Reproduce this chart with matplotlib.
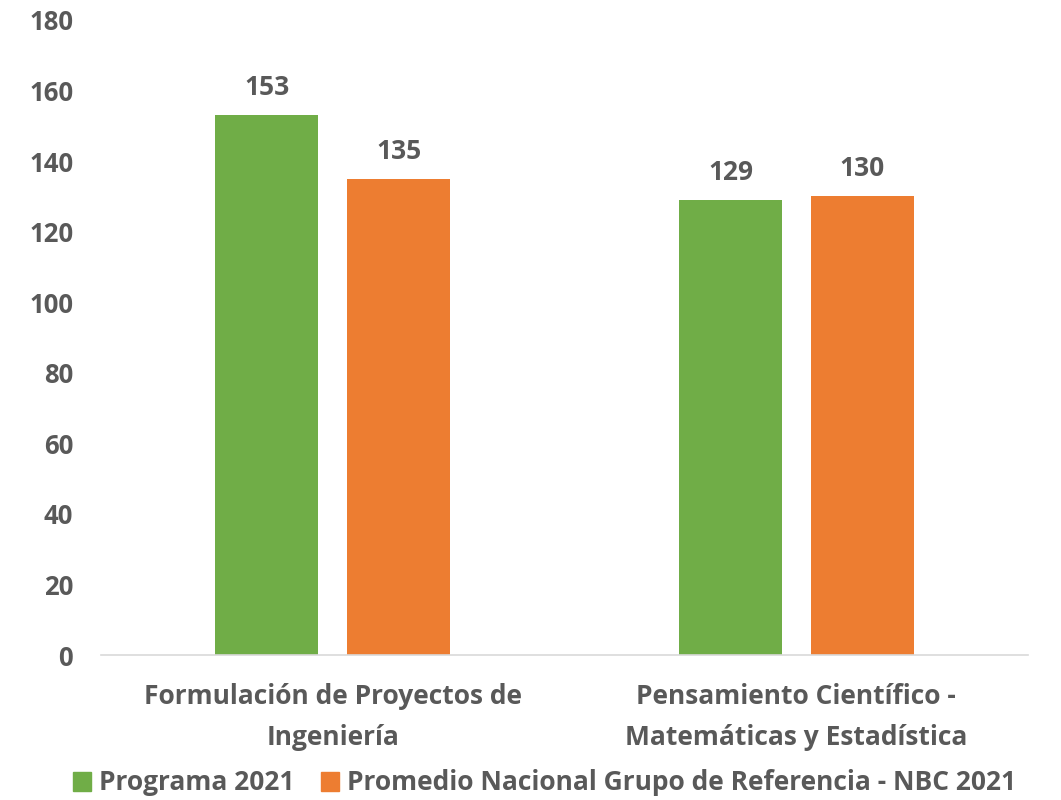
import numpy as np
import matplotlib
matplotlib.use("Agg")
import matplotlib.pyplot as plt
from matplotlib.patches import Patch

categories = ["Formulación de Proyectos de\nIngeniería",
              "Pensamiento Científico -\nMatemáticas y Estadística"]
series_names = ["Programa 2021", "Promedio Nacional Grupo de Referencia - NBC 2021"]
programa = [153, 129]
promedio = [135, 130]
yticks = [0, 20, 40, 60, 80, 100, 120, 140, 160, 180]

GREEN = "#70AD47"
ORANGE = "#ED7D31"
GREY = "#595959"
FS = 19

plt.rcParams["font.family"] = ["Open Sans", "DejaVu Sans"]
plt.rcParams["font.weight"] = "bold"

fig = plt.figure(figsize=(10.61, 8), dpi=100)
ax = fig.add_axes([101 / 1061, 1 - 655 / 800, 927 / 1061, 635 / 800])

x = np.arange(len(categories))
w = 0.222
off = 0.142
b1 = ax.bar(x - off, programa, w, color=GREEN)
b2 = ax.bar(x + off, promedio, w, color=ORANGE)

for bars in (b1, b2):
    for b in bars:
        ax.annotate(f"{b.get_height():.0f}", (b.get_x() + b.get_width() / 2, b.get_height()),
                    xytext=(0, 10), textcoords="offset points", ha="center", va="bottom",
                    fontsize=FS, fontweight="bold", color=GREY)

ax.set_xlim(-0.5, 1.5)
ax.set_ylim(0, 180)
ax.set_yticks(yticks)
ax.set_yticklabels([str(t) for t in yticks], fontsize=FS - 0.5, fontweight="bold", color=GREY)
ax.set_xticks(x)
ax.set_xticklabels(categories, fontsize=FS, fontweight="bold", color=GREY, linespacing=1.7)
ax.tick_params(axis="both", length=0)
ax.tick_params(axis="y", pad=20)
ax.tick_params(axis="x", pad=20)
for s in ("top", "right", "left"):
    ax.spines[s].set_visible(False)
ax.spines["bottom"].set_color("#D9D9D9")
ax.spines["bottom"].set_linewidth(1.2)

handles = [Patch(color=GREEN), Patch(color=ORANGE)]
fig.legend(handles, series_names, loc="center", bbox_to_anchor=(0.513, 1 - 783 / 800),
           ncol=2, frameon=False, handlelength=0.7, handleheight=0.7, handletextpad=0.3,
           columnspacing=1.0, prop={"size": FS, "weight": "bold"}, labelcolor=GREY)

fig.savefig("out.png", dpi=100)
